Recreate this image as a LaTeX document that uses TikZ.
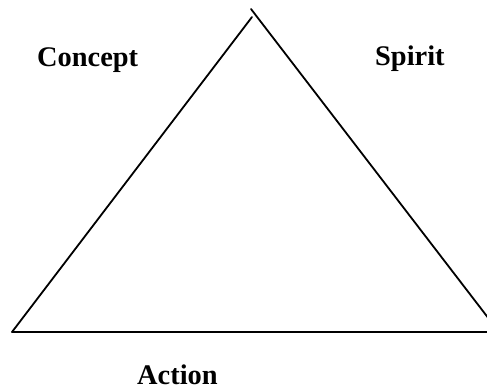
\documentclass[tikz,border=0pt]{standalone}
\usepackage{fontspec}
\setmainfont{Liberation Serif}
\tikzset{
  side/.style={line width=1.8pt, line cap=round},
  word/.style={font=\fontsize{28.4}{30}\selectfont\bfseries, inner sep=0pt, anchor=base west}
}
\begin{document}
\begin{tikzpicture}[x=1pt,y=-1pt]
	\useasboundingbox (0,0) rectangle (487,390);
	\clip (0,0) rectangle (487,390);
	% Corners of the triangle
	\coordinate (apexL) at (252,17);
	\coordinate (apexR) at (251,9);
	\coordinate (baseL) at (12,332);
	\coordinate (baseR) at (499,332);
	% Sides
	\draw[side] (baseL) -- (apexL);
	\draw[side] (apexR) -- (baseR);
	\draw[side] (baseL) -- (baseR);
	% Labels
	\node[word] (concept) at (37,67) {Concept};
	\node[word] (spirit) at (375,66) {Spirit};
	\node[word] (action) at (137,384) {Action};
\end{tikzpicture}
\end{document}
